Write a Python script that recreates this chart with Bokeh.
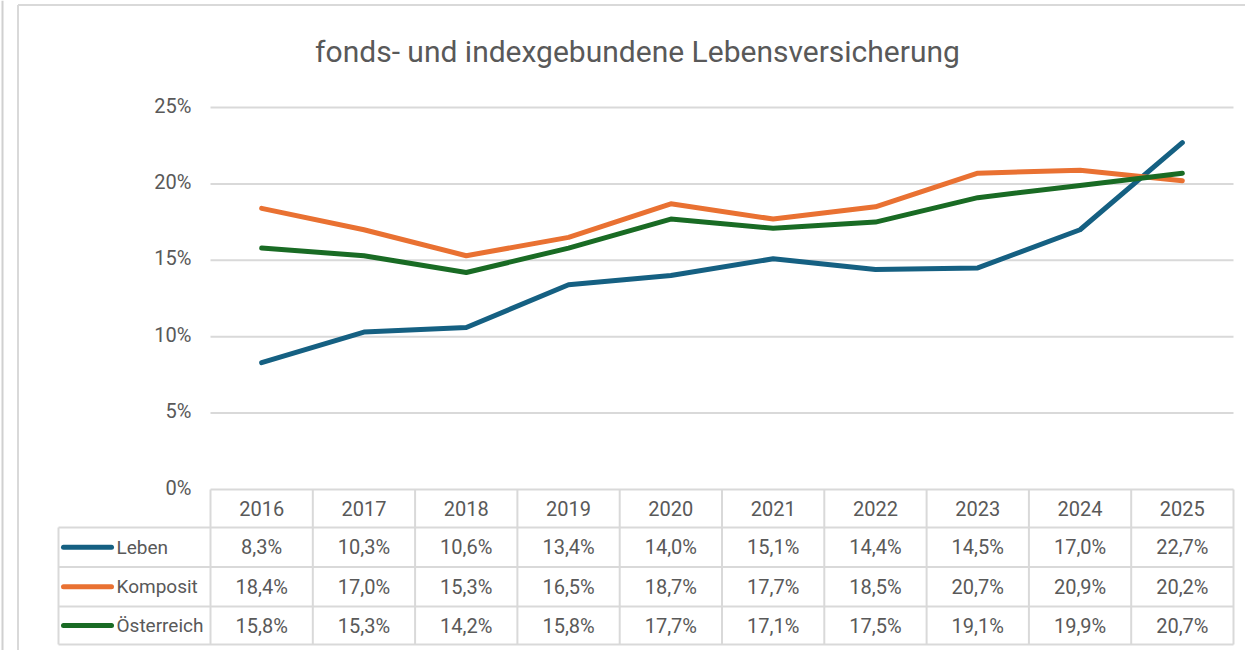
from bokeh.plotting import figure
from bokeh.models import Range1d
from bokeh.core.properties import value
from bokeh.embed import file_html
from bokeh.resources import INLINE

# ---- data ----
years = ["2016", "2017", "2018", "2019", "2020", "2021", "2022", "2023", "2024", "2025"]
leben = [8.3, 10.3, 10.6, 13.4, 14.0, 15.1, 14.4, 14.5, 17.0, 22.7]
komposit = [18.4, 17.0, 15.3, 16.5, 18.7, 17.7, 18.5, 20.7, 20.9, 20.2]
oesterreich = [15.8, 15.3, 14.2, 15.8, 17.7, 17.1, 17.5, 19.1, 19.9, 20.7]
series_names = ["Leben", "Komposit", "Österreich"]
series_colors = ["#156082", "#E97132", "#196B24"]
y_ticks = [0, 5, 10, 15, 20, 25]
title_text = "fonds- und indexgebundene Lebensversicherung"

series_values = [leben, komposit, oesterreich]

# ---- layout (page pixels) ----
W, H = 1245, 650
OX, OY = 0, 0
PX0, PXU = 210.0, 102.3   # page x of first category edge, px per category
PY0, PYU = 489.0, 15.28   # page y of 0 %, px per percent
FONT = "Roboto"
TXT = "#595959"
GRID = "#d9d9d9"


def xd(px):
    return (px - PX0) / PXU


def yd(py):
    return (PY0 - py) / PYU


n = len(years)
p = figure(width=W, height=H,
           x_range=Range1d(xd(OX), xd(OX + W)),
           y_range=Range1d(yd(OY + H), yd(OY)),
           output_backend="svg", toolbar_location=None,
           x_axis_location=None, y_axis_location=None,
           min_border=0, outline_line_color=None)
p.xgrid.visible = False
p.ygrid.visible = False
p.background_fill_color = "white"
p.border_fill_color = "white"

# chart border (left and top edges)
p.segment(x0=[xd(17.5), xd(17.5)], x1=[xd(17.5), xd(1300)],
          y0=[yd(4.5), yd(4.5)], y1=[yd(700), yd(4.5)],
          line_color=GRID, line_width=2)
# outer window edge
p.segment(x0=[xd(2)], x1=[xd(2)], y0=[yd(0)], y1=[yd(700)],
          line_color="#d0d0d0", line_width=2)

# title
p.text(x=[xd(637)], y=[yd(51)], text=[title_text], text_align="center",
       text_baseline="middle", text_font=value(FONT), text_font_size="30px",
       text_color=TXT)

# gridlines
gt = [t for t in y_ticks if t > 0]
p.segment(x0=[0] * len(gt), x1=[n] * len(gt), y0=gt, y1=gt,
          line_color=GRID, line_width=2)

# y tick labels
p.text(x=[xd(191)] * len(y_ticks), y=y_ticks,
       text=[f"{t}%" for t in y_ticks], text_align="right",
       text_baseline="middle", text_font=value(FONT), text_font_size="20px",
       text_color=TXT, y_offset=-2)

# data table
row_px = [489, 527, 566.5, 606, 644]
row_y = [yd(v) for v in row_px]
left_x = xd(58)
# horizontal lines
hx0 = [0] + [left_x] * 4
hx1 = [n] * 5
p.segment(x0=hx0, x1=hx1, y0=row_y, y1=row_y, line_color=GRID, line_width=2)
# vertical lines
vx = list(range(n + 1)) + [left_x]
vy0 = [row_y[0]] * (n + 1) + [row_y[1]]
vy1 = [row_y[-1]] * (n + 2)
p.segment(x0=vx, x1=vx, y0=vy0, y1=vy1, line_color=GRID, line_width=2)

cx = [i + 0.5 for i in range(n)]
hy = (row_y[0] + row_y[1]) / 2
p.text(x=cx, y=[hy] * n, text=years, text_align="center",
       text_baseline="middle", text_font=value(FONT), text_font_size="20px",
       text_color=TXT)

for k, (name, col, vals) in enumerate(zip(series_names, series_colors, series_values)):
    ry = (row_y[k + 1] + row_y[k + 2]) / 2
    # lines in chart
    p.line(x=cx, y=vals, line_color=col, line_width=5, line_cap="round",
           line_join="round")
    # legend key
    p.segment(x0=[xd(63)], x1=[xd(111)], y0=[ry], y1=[ry], line_color=col,
              line_width=5, line_cap="round")
    p.text(x=[xd(116)], y=[ry], text=[name], text_align="left",
           text_baseline="middle", text_font=value(FONT),
           text_font_size="19px", text_color=TXT)
    labels = [f"{v:.1f}".replace(".", ",") + "%" for v in vals]
    p.text(x=cx, y=[ry] * n, text=labels, text_align="center",
           text_baseline="middle", text_font=value(FONT),
           text_font_size="20px", text_color=TXT)

open("out.html", "w").write(file_html(p, INLINE))
